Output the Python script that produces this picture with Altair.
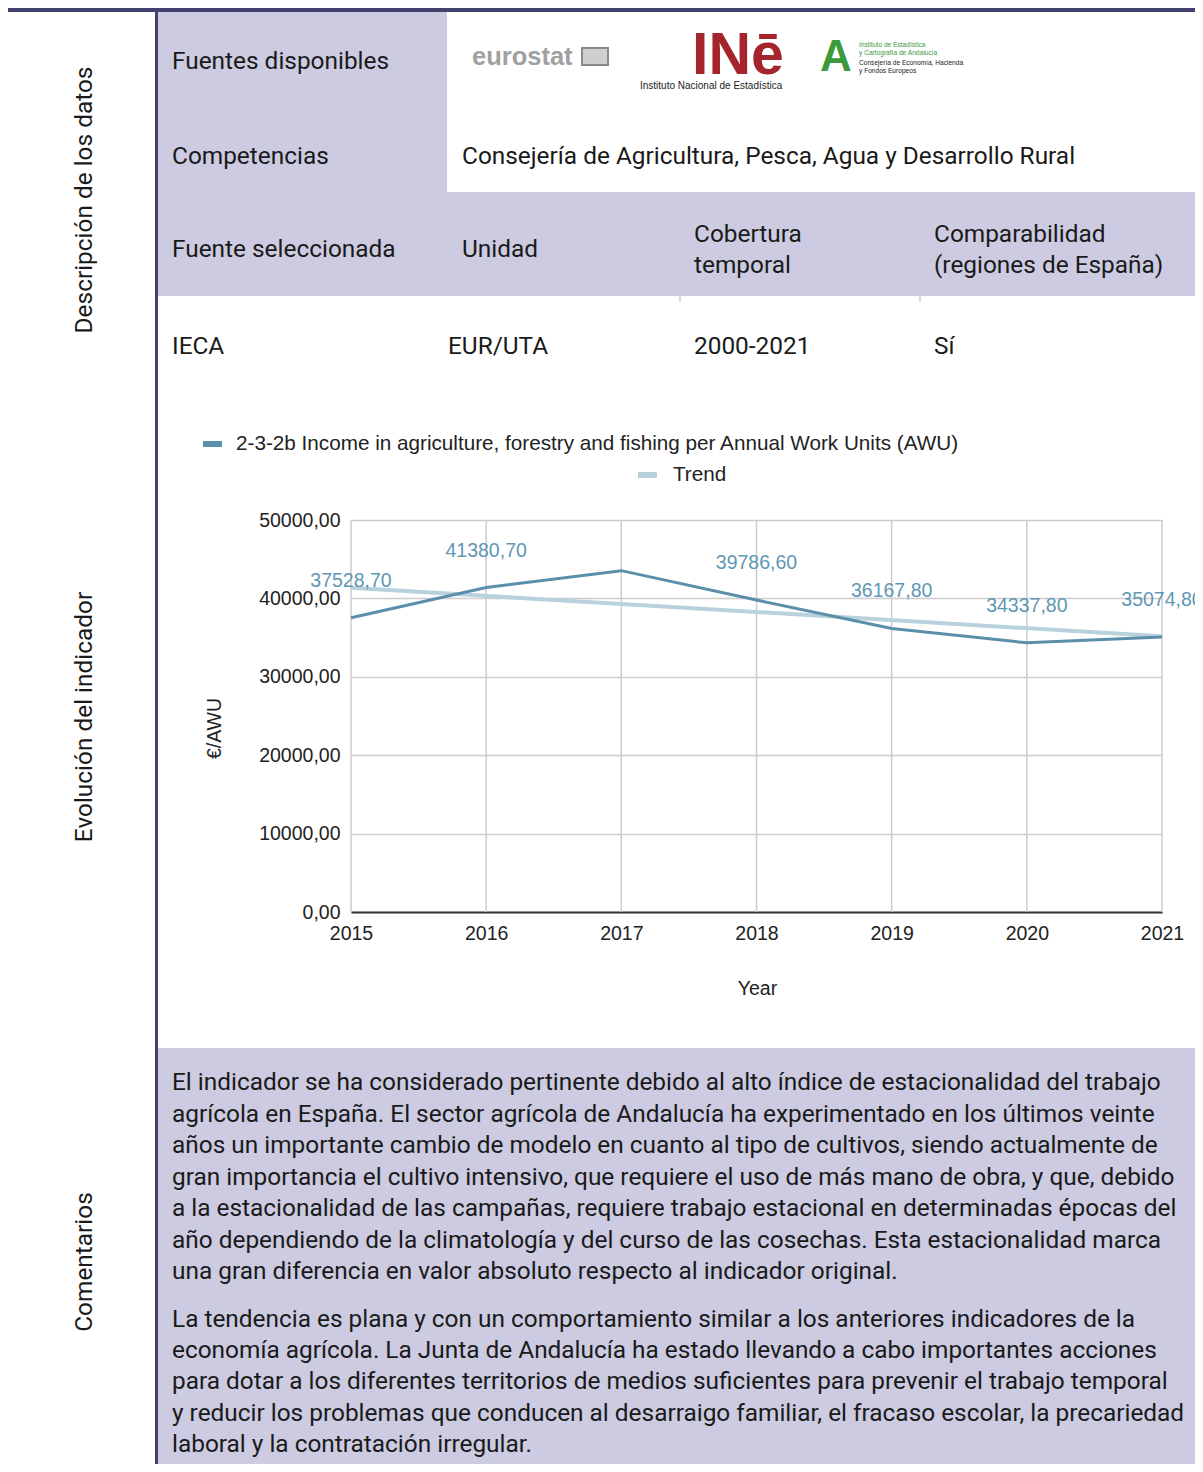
import altair as alt
import pandas as pd

# ---------------- data ----------------
years = [2015, 2016, 2017, 2018, 2019, 2020, 2021]
income = [37528.70, 41380.70, 43540.00, 39786.60, 36167.80, 34337.80, 35074.80]
label_shown = [True, True, False, True, True, True, True]
trend_years = [2015, 2021]
trend_values = [41350.0, 35170.0]
series_names = ["2-3-2b Income in agriculture, forestry and fishing per Annual Work Units (AWU)", "Trend"]
y_ticks = [0, 10000, 20000, 30000, 40000, 50000]
x_title = "Year"
y_title = "€/AWU"

section_titles = ["Descripción de los datos", "Evolución del indicador", "Comentarios"]
row_labels = ["Fuentes disponibles", "Competencias", "Fuente seleccionada"]
competencias = "Consejería de Agricultura, Pesca, Agua y Desarrollo Rural"
header_cells = [["Unidad"], ["Cobertura", "temporal"], ["Comparabilidad", "(regiones de España)"]]
value_cells = ["IECA", "EUR/UTA", "2000-2021", "Sí"]
comment_para1 = [
    "El indicador se ha considerado pertinente debido al alto índice de estacionalidad del trabajo",
    "agrícola en España. El sector agrícola de Andalucía ha experimentado en los últimos veinte",
    "años un importante cambio de modelo en cuanto al tipo de cultivos, siendo actualmente de",
    "gran importancia el cultivo intensivo, que requiere el uso de más mano de obra, y que, debido",
    "a la estacionalidad de las campañas, requiere trabajo estacional en determinadas épocas del",
    "año dependiendo de la climatología y del curso de las cosechas. Esta estacionalidad marca",
    "una gran diferencia en valor absoluto respecto al indicador original.",
]
comment_para2 = [
    "La tendencia es plana y con un comportamiento similar a los anteriores indicadores de la",
    "economía agrícola. La Junta de Andalucía ha estado llevando a cabo importantes acciones",
    "para dotar a los diferentes territorios de medios suficientes para prevenir el trabajo temporal",
    "y reducir los problemas que conducen al desarraigo familiar, el fracaso escolar, la precariedad",
    "laboral y la contratación irregular.",
]
logo_texts = {
    "eurostat": "eurostat",
    "ine": "INē",
    "ine_sub": "Instituto Nacional de Estadística",
    "and_a": "A",
    "and_lines": ["Instituto de Estadística", "y Cartografía de Andalucía",
                  "Consejería de Economía, Hacienda", "y Fondos Europeos"],
}

# ---------------- layout / style ----------------
W, H = 1187, 1456
OFF = 8  # page margin


def P(v):
    return v - OFF


DARK = "#43416e"
PURPLE = "#cccbe1"
MAIN = "#5a8fab"
TREND = "#b8d1dd"
LBL = "#5f97b4"
GRID = "#cccccc"
DOC_FONT = "Roboto"
DOC_SIZE = 24.4
DOC_COLOR = "#1a1a1a"
CH_FONT = "Liberation Sans"
CH_SIZE = 19.5
LEG_SIZE = 20.7
CH_COLOR = "#222222"

X_RANGE = [P(351), P(1162)]
Y_RANGE = [P(912), P(520)]

x_scale = alt.Scale(domain=[2015, 2021], range=X_RANGE, nice=False, zero=False)
y_scale = alt.Scale(domain=[0, 50000], range=Y_RANGE, nice=False, zero=False)

x_axis = alt.Axis(
    values=years, format="d", orient="bottom", offset=Y_RANGE[0] - H,
    grid=False,
    domain=True, domainColor="#333333", domainWidth=2, ticks=False,
    labelFont=CH_FONT, labelFontSize=CH_SIZE, labelColor=CH_COLOR, labelPadding=12,
    labelFlush=False, labelOverlap=False,
    title=x_title, titleFont=CH_FONT, titleFontSize=CH_SIZE, titleFontWeight="normal",
    titleColor=CH_COLOR, titleX=P(757), titleY=988 - 912, titleBaseline="middle",
    titleAlign="center",
)
y_axis = alt.Axis(
    values=y_ticks, orient="left", offset=-X_RANGE[0],
    labelExpr="replace(format(datum.value, '.2f'), '.', ',')",
    grid=True, gridColor=GRID, gridWidth=1.5, domain=False, ticks=False,
    labelFont=CH_FONT, labelFontSize=CH_SIZE, labelColor=CH_COLOR, labelPadding=11,
    title=y_title, titleFont=CH_FONT, titleFontSize=CH_SIZE, titleFontWeight="normal",
    titleColor=CH_COLOR, titleX=P(214) - X_RANGE[0], titleY=P(728),
    titleBaseline="middle", titleAlign="center", titleAngle=270,
)

# ---------------- decoration tables ----------------
rect_rows = [
    (5, 1203, 4, 12, DARK),
    (155, 158, 12, 1472, DARK),
    (158, 447, 12, 192, PURPLE),
    (158, 1203, 192, 296, PURPLE),
    (158, 1203, 1048, 1472, PURPLE),
    (679, 681, 296, 302, "#dddddd"),
    (919, 921, 296, 302, "#dddddd"),
    (203, 222, 441, 447, MAIN),
    (638, 657, 472, 478, TREND),
    (581, 609, 47, 66, "#8a8a8a"),
    (583, 607, 49, 64, "#cfcfcf"),
]
rects = pd.DataFrame(
    [{"x": P(a), "x2": P(b), "y": P(c), "y2": P(d), "fill": f} for a, b, c, d, f in rect_rows]
)

rect_layer = alt.Chart(rects).mark_rect().encode(
    x=alt.X("x:Q", scale=None, axis=None),
    x2="x2:Q",
    y=alt.Y("y:Q", scale=None, axis=None),
    y2="y2:Q",
    color=alt.Color("fill:N", scale=None),
)


def text_layer(rows, font, weight="normal", align="left", baseline="middle", style="normal"):
    df = pd.DataFrame(
        [{"x": P(x), "y": P(y), "t": t, "s": s, "c": c, "a": a} for x, y, t, s, c, a in rows]
    )
    return alt.Chart(df).mark_text(
        font=font, fontWeight=weight, align=align, baseline=baseline, fontStyle=style
    ).encode(
        x=alt.X("x:Q", scale=None, axis=None),
        y=alt.Y("y:Q", scale=None, axis=None),
        text="t:N",
        size=alt.Size("s:Q", scale=None, legend=None),
        color=alt.Color("c:N", scale=None),
        angle=alt.Angle("a:Q", scale=None),
    )


# document text (left aligned)
doc_rows = [
    (172, 62, row_labels[0], DOC_SIZE, DOC_COLOR, 0),
    (172, 157, row_labels[1], DOC_SIZE, DOC_COLOR, 0),
    (462, 157, competencias, DOC_SIZE, DOC_COLOR, 0),
    (172, 250, row_labels[2], DOC_SIZE, DOC_COLOR, 0),
    (462, 250, header_cells[0][0], DOC_SIZE, DOC_COLOR, 0),
    (694, 235, header_cells[1][0], DOC_SIZE, DOC_COLOR, 0),
    (694, 266, header_cells[1][1], DOC_SIZE, DOC_COLOR, 0),
    (934, 235, header_cells[2][0], DOC_SIZE, DOC_COLOR, 0),
    (934, 266, header_cells[2][1], DOC_SIZE, DOC_COLOR, 0),
    (172, 347, value_cells[0], DOC_SIZE, DOC_COLOR, 0),
    (448, 347, value_cells[1], DOC_SIZE, DOC_COLOR, 0),
    (694, 347, value_cells[2], DOC_SIZE, DOC_COLOR, 0),
    (934, 347, value_cells[3], DOC_SIZE, DOC_COLOR, 0),
]
para1_y = [1083, 1115, 1146, 1178, 1209, 1241, 1272]
para2_y = [1320, 1351, 1382, 1414, 1445]
for t, yy in zip(comment_para1, para1_y):
    doc_rows.append((172, yy, t, DOC_SIZE, DOC_COLOR, 0))
for t, yy in zip(comment_para2, para2_y):
    doc_rows.append((172, yy, t, DOC_SIZE, DOC_COLOR, 0))

side_rows = [
    (85, 200, section_titles[0], DOC_SIZE, DOC_COLOR, 270),
    (85, 717, section_titles[1], DOC_SIZE, DOC_COLOR, 270),
    (85, 1262, section_titles[2], DOC_SIZE, DOC_COLOR, 270),
]

legend_rows = [
    (236, 444, series_names[0], LEG_SIZE, CH_COLOR, 0),
    (673, 475, series_names[1], LEG_SIZE, CH_COLOR, 0),
]

logo_bold_rows = [
    (472, 57, logo_texts["eurostat"], 25.5, "#a0a0a0", 0),
    (692, 56, logo_texts["ine"], 59, "#a4262c", 0),
    (820, 58, logo_texts["and_a"], 44, "#3b9a3c", 0),
]
logo_small_rows = [
    (640, 86, logo_texts["ine_sub"], 10, "#222222", 0),
    (859, 45, logo_texts["and_lines"][0], 6.6, "#3b9a3c", 0),
    (859, 53, logo_texts["and_lines"][1], 6.6, "#3b9a3c", 0),
    (859, 63, logo_texts["and_lines"][2], 6.6, "#222222", 0),
    (859, 71, logo_texts["and_lines"][3], 6.6, "#222222", 0),
]

# ---------------- chart data layers ----------------
labels = [f"{v:.2f}".replace(".", ",") if s else "" for v, s in zip(income, label_shown)]
df = pd.DataFrame({"year": years, "value": income, "label": labels})
tdf = pd.DataFrame({"year": trend_years, "value": trend_values})
gdf = pd.DataFrame({"year": years, "value": [y_ticks[0]] * len(years), "top": [y_ticks[-1]] * len(years)})

enc_x = alt.X("year:Q", scale=x_scale, axis=x_axis)
enc_y = alt.Y("value:Q", scale=y_scale, axis=y_axis)

v_grid = alt.Chart(gdf).mark_rule(color=GRID, strokeWidth=1.5).encode(x=enc_x, y=enc_y, y2="top:Q")
trend_line = alt.Chart(tdf).mark_line(color=TREND, strokeWidth=4).encode(x=enc_x, y=enc_y)
main_line = alt.Chart(df).mark_line(color=MAIN, strokeWidth=3).encode(x=enc_x, y=enc_y)
value_labels = alt.Chart(df).mark_text(
    font=CH_FONT, fontSize=CH_SIZE, color=LBL, dy=-37, baseline="middle", align="center"
).encode(x=enc_x, y=enc_y, text="label:N")

chart = alt.layer(
    rect_layer,
    v_grid,
    trend_line,
    main_line,
    value_labels,
    text_layer(doc_rows, DOC_FONT),
    text_layer(side_rows, DOC_FONT, align="center"),
    text_layer(legend_rows, CH_FONT),
    text_layer(logo_bold_rows, "Liberation Sans", weight="bold"),
    text_layer(logo_small_rows, "Liberation Sans"),
).properties(
    width=W, height=H, autosize="none", padding=0, background="white"
).configure_view(stroke=None)

chart.save("out.html", embed_options={"renderer": "svg", "actions": False})
